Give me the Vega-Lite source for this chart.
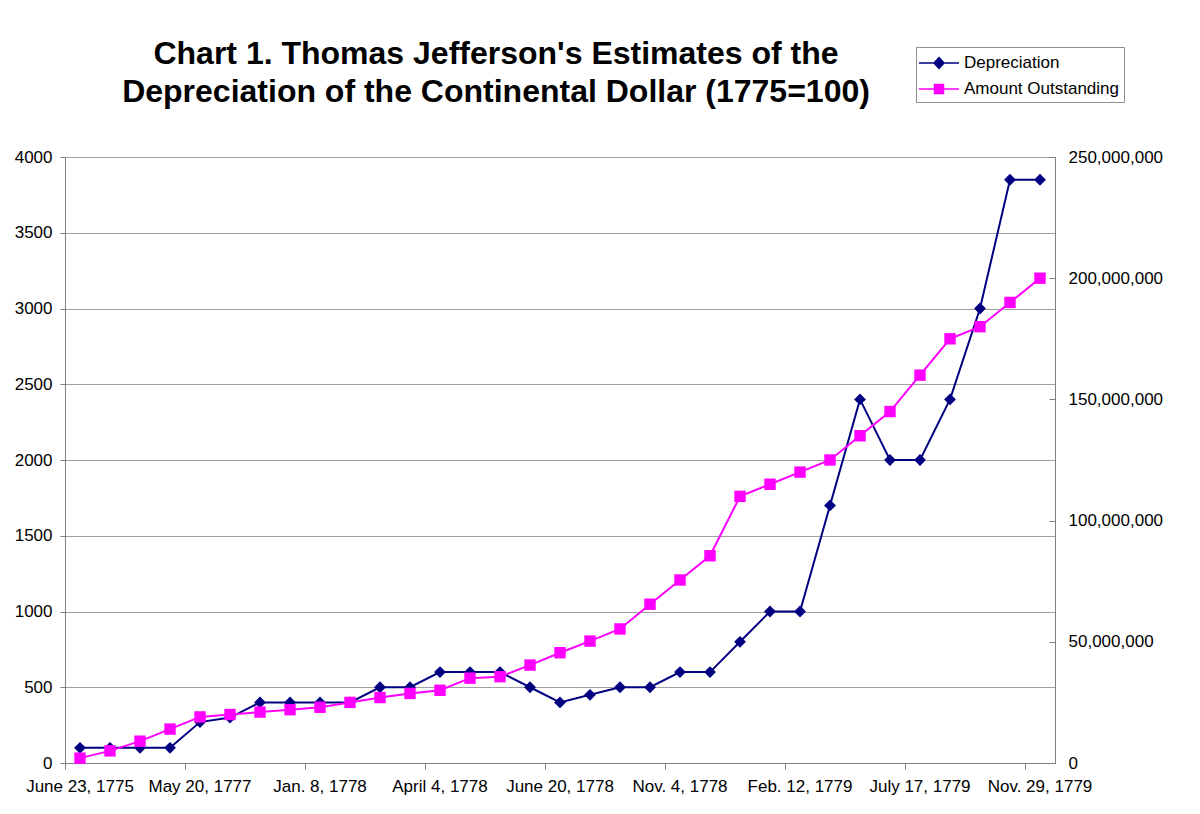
{
  "$schema": "https://vega.github.io/schema/vega-lite/v6.json",
  "width": 990,
  "height": 606,
  "autosize": "none",
  "padding": {"left": 65, "top": 157, "right": 145, "bottom": 51},
  "background": "white",
  "config": {
    "font": "Liberation Sans",
    "view": {"stroke": "#808080", "strokeWidth": 1},
    "axis": {
      "labelFont": "Liberation Sans",
      "labelFontSize": 17,
      "labelColor": "black",
      "domainColor": "#808080",
      "tickColor": "#808080",
      "gridColor": "#a0a0a0",
      "title": null
    }
  },
  "title": {
    "text": ["Chart 1. Thomas Jefferson's Estimates of the", "Depreciation of the Continental Dollar (1775=100)"],
    "font": "Liberation Sans",
    "fontSize": 32,
    "fontWeight": "bold",
    "color": "black",
    "anchor": "middle",
    "frame": "group",
    "dx": -64,
    "dy": 72,
    "offset": 10,
    "lineHeight": 38
  },
  "data": {
    "values": [
      {"date": "June 23, 1775", "dep": 100, "amt": 2000000},
      {"date": "Nov. 29, 1775", "dep": 100, "amt": 5000000},
      {"date": "May 9, 1776", "dep": 100, "amt": 9000000},
      {"date": "Dec. 28, 1776", "dep": 100, "amt": 14000000},
      {"date": "May 20, 1777", "dep": 270, "amt": 19000000},
      {"date": "Aug. 15, 1777", "dep": 300, "amt": 20000000},
      {"date": "Nov. 7, 1777", "dep": 400, "amt": 21000000},
      {"date": "Dec. 3, 1777", "dep": 400, "amt": 22000000},
      {"date": "Jan. 8, 1778", "dep": 400, "amt": 23000000},
      {"date": "Jan. 22, 1778", "dep": 400, "amt": 25000000},
      {"date": "Feb. 16, 1778", "dep": 500, "amt": 27000000},
      {"date": "Mar. 5, 1778", "dep": 500, "amt": 28700000},
      {"date": "April 4, 1778", "dep": 600, "amt": 30000000},
      {"date": "April 11, 1778", "dep": 600, "amt": 35000000},
      {"date": "April 18, 1778", "dep": 600, "amt": 35600000},
      {"date": "May 22, 1778", "dep": 500, "amt": 40400000},
      {"date": "June 20, 1778", "dep": 400, "amt": 45500000},
      {"date": "July 30, 1778", "dep": 450, "amt": 50300000},
      {"date": "Sept. 5, 1778", "dep": 500, "amt": 55300000},
      {"date": "Sept. 26, 1778", "dep": 500, "amt": 65500000},
      {"date": "Nov. 4, 1778", "dep": 600, "amt": 75500000},
      {"date": "Dec. 14, 1778", "dep": 600, "amt": 85500000},
      {"date": "Jan. 14, 1779", "dep": 800, "amt": 110000000},
      {"date": "Feb. 3, 1779", "dep": 1000, "amt": 115000000},
      {"date": "Feb. 12, 1779", "dep": 1000, "amt": 120000000},
      {"date": "Feb. 19, 1779", "dep": 1700, "amt": 125000000},
      {"date": "April 1, 1779", "dep": 2400, "amt": 135000000},
      {"date": "May 7, 1779", "dep": 2000, "amt": 145000000},
      {"date": "July 17, 1779", "dep": 2000, "amt": 160000000},
      {"date": "Sept. 17, 1779", "dep": 2400, "amt": 175000000},
      {"date": "Oct. 14, 1779", "dep": 3000, "amt": 180000000},
      {"date": "Nov. 17, 1779", "dep": 3850, "amt": 190000000},
      {"date": "Nov. 29, 1779", "dep": 3850, "amt": 200000000}
    ]
  },
  "encoding": {
    "x": {
      "field": "date",
      "type": "nominal",
      "sort": null,
      "scale": {"type": "band", "paddingInner": 0, "paddingOuter": 0},
      "axis": {
        "values": ["June 23, 1775", "May 20, 1777", "Jan. 8, 1778", "April 4, 1778", "June 20, 1778", "Nov. 4, 1778", "Feb. 12, 1779", "July 17, 1779", "Nov. 29, 1779"],
        "labelAngle": 0,
        "bandPosition": 0,
        "tickSize": 6,
        "labelPadding": 9,
        "grid": false
      }
    }
  },
  "layer": [
    {
      "encoding": {
        "y": {
          "field": "dep",
          "type": "quantitative",
          "scale": {"domain": [0, 4000], "nice": false},
          "axis": {"orient": "left", "values": [0, 500, 1000, 1500, 2000, 2500, 3000, 3500, 4000], "grid": true, "tickSize": 5, "labelPadding": 8, "format": "d"}
        },
        "color": {
          "datum": "Depreciation",
          "scale": {"domain": ["Depreciation", "Amount Outstanding"], "range": ["#000080", "#FF00FF"]},
          "legend": {
            "title": null,
            "orient": "none",
            "legendX": 851,
            "legendY": -110,
            "direction": "vertical",
            "strokeColor": "#909090",
            "fillColor": "white",
            "padding": 5,
            "symbolSize": 400,
            "symbolOffset": 7,
            "labelOffset": 14,
            "rowPadding": 6,
            "labelFontSize": 17,
            "labelFont": "Liberation Sans",
            "labelColor": "black",
            "labelLimit": 300,
            "encode": {
              "symbols": {
                "update": {
                  "shape": {"signal": "datum.value === 'Depreciation' ? 'M-2,0H2M0,-0.55L0.5,0L0,0.55L-0.5,0Z' : 'M-2,0H2M-0.45,-0.45H0.45V0.45H-0.45Z'"},
                  "fill": {"signal": "datum.value === 'Depreciation' ? '#000080' : '#FF00FF'"},
                  "stroke": {"signal": "datum.value === 'Depreciation' ? '#000080' : '#FF00FF'"},
                  "strokeWidth": {"value": 1.5},
                  "opacity": {"value": 1}
                }
              }
            }
          }
        }
      },
      "layer": [
        {"mark": {"type": "line", "strokeWidth": 2}},
        {"mark": {"type": "point", "shape": "diamond", "filled": true, "size": 140, "opacity": 1}}
      ]
    },
    {
      "encoding": {
        "y": {
          "field": "amt",
          "type": "quantitative",
          "scale": {"domain": [0, 250000000], "nice": false},
          "axis": {"orient": "right", "values": [0, 50000000, 100000000, 150000000, 200000000, 250000000], "grid": false, "tickSize": -6, "labelPadding": 19, "format": ",d"}
        },
        "color": {"datum": "Amount Outstanding"}
      },
      "layer": [
        {"mark": {"type": "line", "strokeWidth": 2}},
        {"mark": {"type": "point", "shape": "square", "filled": true, "size": 130, "opacity": 1}}
      ]
    }
  ],
  "resolve": {"scale": {"y": "independent"}}
}
